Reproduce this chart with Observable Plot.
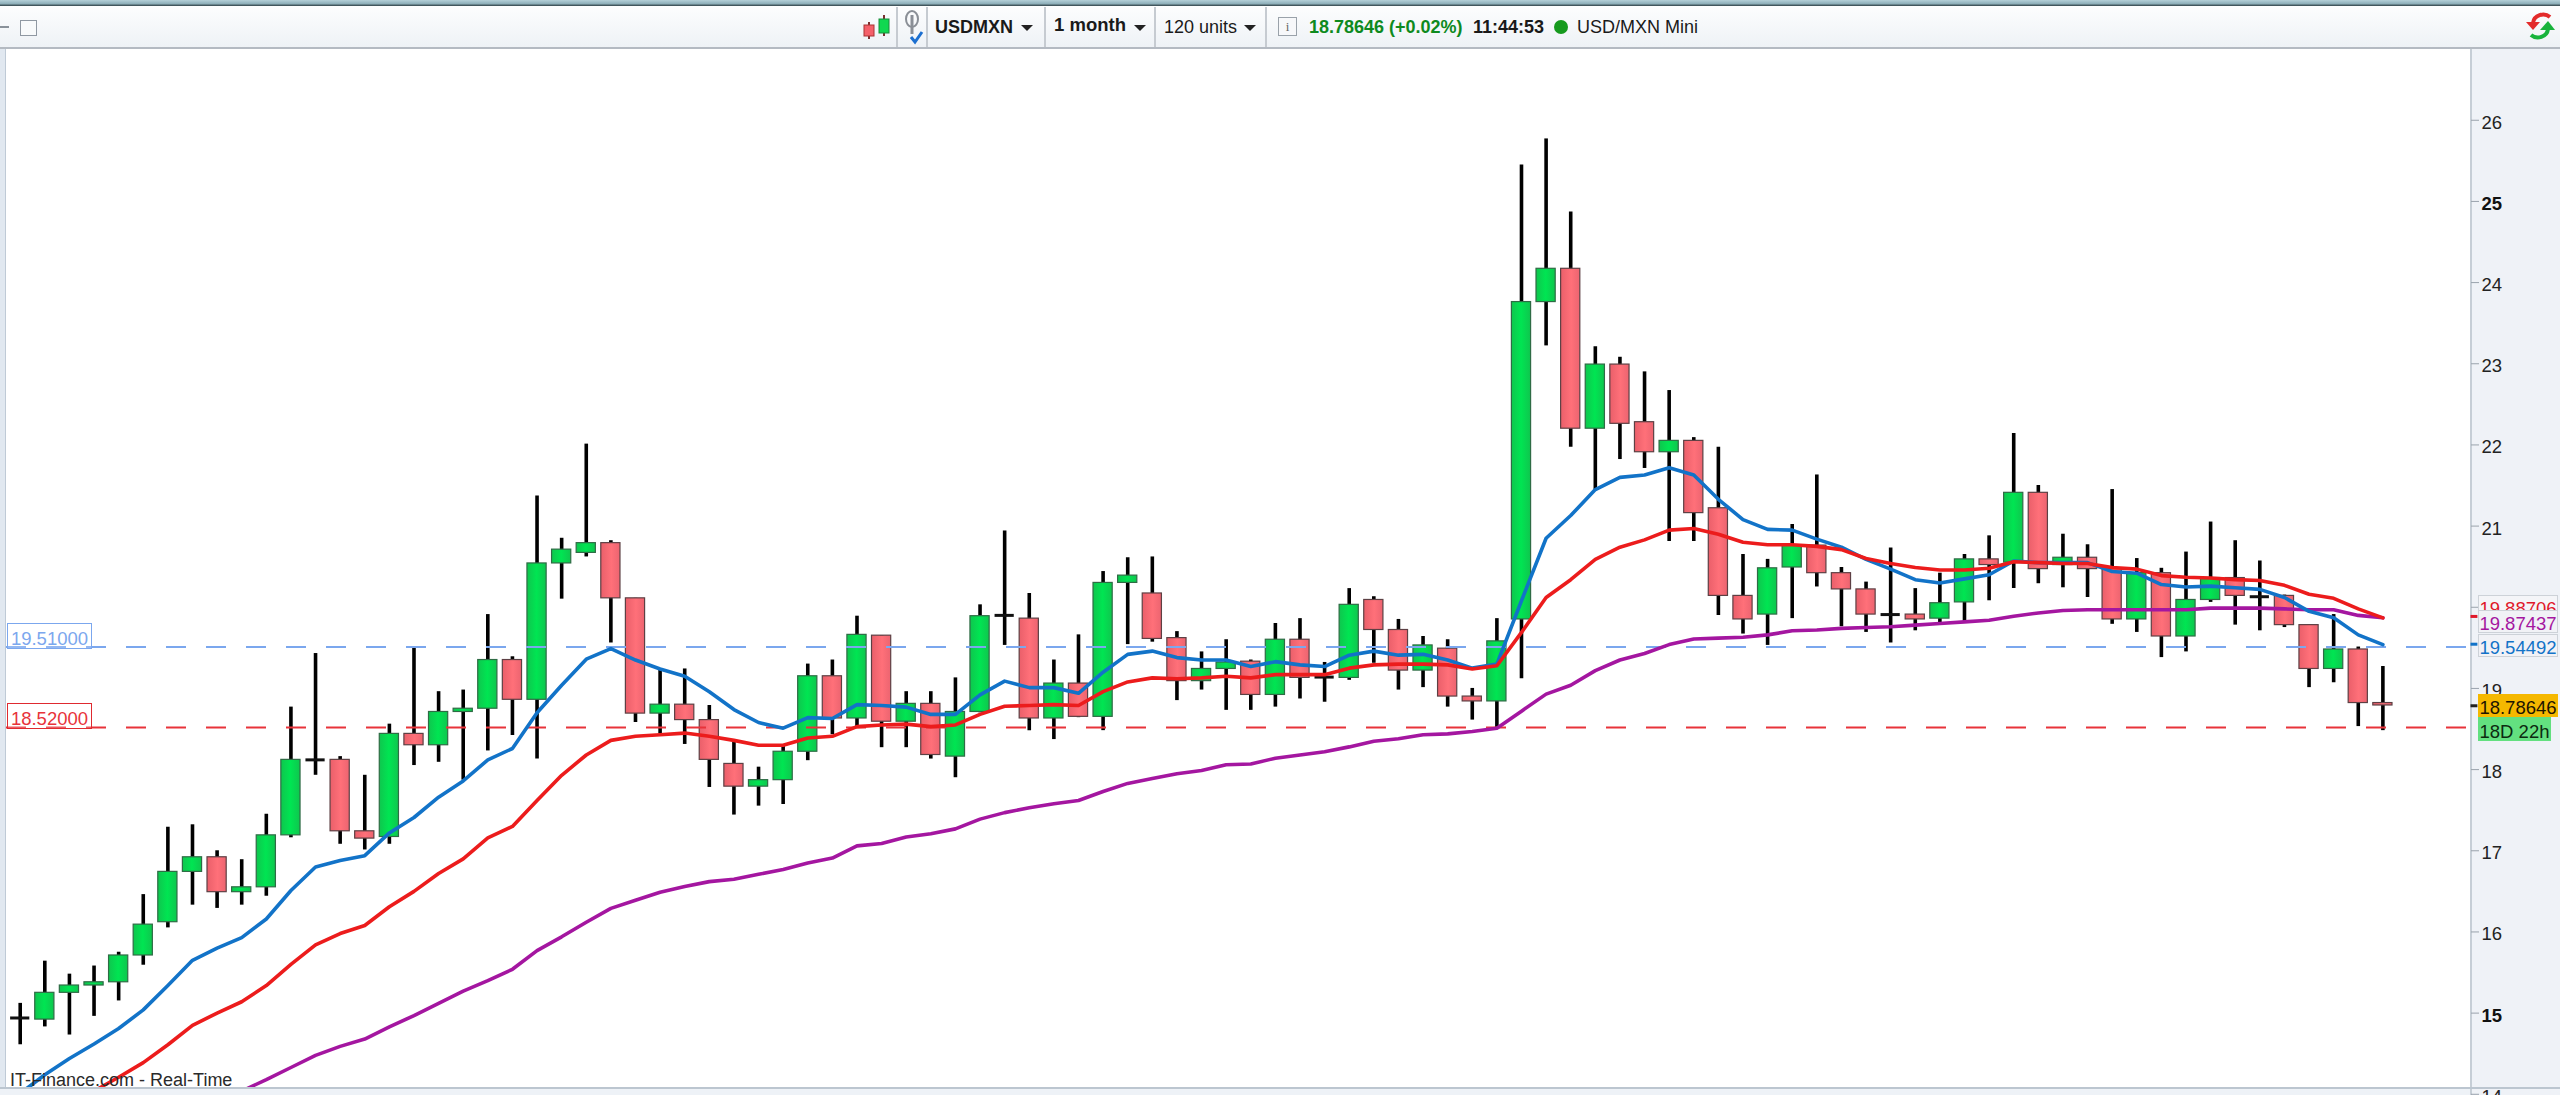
<!DOCTYPE html>
<html><head><meta charset="utf-8">
<script src="https://cdn.jsdelivr.net/npm/d3@7"></script>
<script src="https://cdn.jsdelivr.net/npm/@observablehq/plot@0.6"></script>
<style>
html,body{margin:0;padding:0;width:2560px;height:1095px;overflow:hidden;background:#fff;font-family:"Liberation Sans",sans-serif;position:relative}
#bar{position:absolute;left:0;top:0;width:2560px;height:47px;background:linear-gradient(#fff,#eef2f6);border-bottom:2px solid #b4bac2;z-index:3}
#strip{position:absolute;left:0;top:0;width:2560px;height:6px;background:linear-gradient(#b5d0d8,#8fb0ba 60%,#2d3e44);z-index:4}
.b{position:absolute;top:16px;font-size:18px;line-height:22px;white-space:nowrap;color:#1a1a1a}
.sep{position:absolute;top:7px;height:40px;width:2px;background:#c6cbd1}
.arr{position:absolute;top:25px;width:0;height:0;border-left:6px solid transparent;border-right:6px solid transparent;border-top:6px solid #222}
#panel{position:absolute;left:2470px;top:48px;width:90px;height:1047px;background:#eff2f7;border-left:2px solid #c6ced6;box-sizing:border-box;z-index:0}
#leftp{position:absolute;left:0;top:48px;width:6px;height:1047px;background:#e1e8f0;border-right:1px solid #bfcad6;box-sizing:border-box;z-index:0}
#chart{position:absolute;left:0;top:48px;z-index:1}
#chart svg{background:transparent!important;display:block}
#foot{position:absolute;left:0;top:1087px;width:2470px;height:8px;background:#eef2f7;border-top:2px solid #bcc6d0;box-sizing:border-box;z-index:2}
#foot2{position:absolute;left:2470px;top:1087px;width:90px;height:2px;background:#bcc6d0;z-index:0}
.tag{position:absolute;box-sizing:border-box;font-size:18.5px;height:23px;text-align:center;z-index:2;white-space:nowrap;overflow:hidden}
#src{position:absolute;left:10px;top:1070px;font-size:18px;line-height:20px;color:#2a2a2a;z-index:3;white-space:nowrap}
</style></head><body>
<div id="leftp"></div><div id="panel"></div><div id="foot2"></div>
<div id="chart"></div><div id="foot"></div>
<div id="strip"></div>
<div id="bar">
<div style="position:absolute;left:0;top:26px;width:9px;height:2px;background:#8a929a"></div>
<div style="position:absolute;left:20px;top:20px;width:15px;height:14px;border:1.5px solid #8f98a2;background:#f8fafb"></div>
<svg style="position:absolute;left:860px;top:12px" width="32" height="30"><path d="M9 10V27M24 3V24" stroke="#7a3030" stroke-width="2"/><rect x="4" y="13" width="10" height="11" fill="#f4606a" stroke="#a33"/><rect x="19" y="7" width="10" height="14" fill="#10d850" stroke="#1a8a3a"/></svg>
<div class="sep" style="left:896px"></div>
<svg style="position:absolute;left:902px;top:10px" width="22" height="36"><ellipse cx="10" cy="9" rx="6" ry="8" fill="none" stroke="#8a8f96" stroke-width="2"/><path d="M10 5V24" stroke="#8a8f96" stroke-width="3"/><path d="M9 27l4 5 7-10" fill="none" stroke="#1c6fd0" stroke-width="3"/></svg>
<div class="sep" style="left:926px"></div>
<div class="b" style="left:935px;font-weight:700">USDMXN</div><div class="arr" style="left:1021px"></div>
<div class="sep" style="left:1044px"></div>
<div class="b" style="left:1054px;top:14px;font-weight:700;font-size:18.5px">1 month</div><div class="arr" style="left:1134px"></div>
<div class="sep" style="left:1154px"></div>
<div class="b" style="left:1164px">120 units</div><div class="arr" style="left:1244px"></div>
<div class="sep" style="left:1265px"></div>
<div style="position:absolute;left:1278px;top:17px;width:17px;height:17px;border:1.5px solid #9aa2aa;font:13px 'Liberation Serif';text-align:center;line-height:17px;color:#666;background:#f7f8fa">i</div>
<div class="b" style="left:1309px;font-weight:700;color:#0e8a1e">18.78646 (+0.02%)</div>
<div class="b" style="left:1473px;font-weight:700">11:44:53</div>
<div style="position:absolute;left:1554px;top:20px;width:14px;height:14px;border-radius:50%;background:#169a1e"></div>
<div class="b" style="left:1577px">USD/MXN Mini</div>
<svg style="position:absolute;left:2524px;top:11px" width="32" height="30"><path d="M26 6C20 1 10 4 9 12" fill="none" stroke="#e32b2b" stroke-width="4"/><path d="M2 11h14l-7 8z" fill="#e32b2b"/><path d="M7 24c6 5 16 2 17-6" fill="none" stroke="#18b33c" stroke-width="4"/><path d="M16 19h15l-7-9z" fill="#18b33c"/></svg>
</div>
<div id="tags"></div>
<div id="src">IT-Finance.com - Real-Time</div>
<script>
const opens=[14.94,14.92,15.25,15.34,15.38,15.71,16.12,16.74,16.92,16.49,16.55,17.19,18.12,18.12,17.24,17.17,18.44,18.30,18.71,18.75,19.35,18.86,20.54,20.67,20.79,20.11,18.69,18.80,18.61,18.07,17.79,17.87,18.22,19.15,18.63,19.65,18.59,18.81,18.16,18.71,19.90,19.86,18.63,19.06,18.65,20.30,20.17,19.62,19.09,19.24,19.33,18.92,19.60,19.14,19.13,20.09,19.72,19.22,19.49,18.90,18.84,19.85,23.76,24.17,22.20,22.99,22.28,21.91,22.05,21.22,20.14,19.91,20.49,20.76,20.42,20.22,19.91,19.91,19.86,20.06,20.59,20.55,21.41,20.52,20.61,20.47,19.85,20.42,19.64,20.09,20.36,20.13,20.14,19.78,19.24,19.48,18.82];
const closes=[14.94,15.25,15.34,15.38,15.71,16.09,16.74,16.92,16.49,16.55,17.19,18.12,18.12,17.24,17.15,18.44,18.30,18.71,18.75,19.35,18.86,20.54,20.71,20.79,20.11,18.69,18.80,18.61,18.12,17.79,17.87,18.22,19.15,18.63,19.66,18.59,18.81,18.18,18.71,19.89,19.90,18.63,19.06,18.65,20.30,20.39,19.61,19.09,19.24,19.32,18.92,19.60,19.13,19.14,20.03,19.72,19.22,19.53,18.90,18.84,19.58,23.76,24.17,22.20,22.99,22.26,21.91,22.05,21.16,20.14,19.85,20.48,20.76,20.42,20.22,19.91,19.91,19.85,20.05,20.59,20.52,21.41,20.47,20.61,20.47,19.85,20.42,19.64,20.09,20.36,20.14,20.13,19.78,19.24,19.48,18.82,18.79];
const highs=[15.12,15.64,15.48,15.58,15.75,16.46,17.29,17.32,17.00,16.89,17.45,18.77,19.43,18.16,17.93,18.56,19.50,18.96,18.98,19.91,19.39,21.37,20.85,22.01,20.82,20.11,19.24,19.24,18.79,18.36,18.03,18.30,19.30,19.35,19.89,19.65,18.96,18.96,19.13,20.03,20.94,20.17,19.35,19.66,20.44,20.61,20.62,19.70,19.45,19.60,19.35,19.80,19.86,19.32,20.23,20.13,19.85,19.64,19.60,19.00,19.86,25.45,25.77,24.87,23.21,23.08,22.90,22.67,22.09,21.97,20.65,20.59,21.02,21.63,20.49,20.31,20.73,20.23,20.42,20.65,20.88,22.14,21.50,20.90,20.77,21.45,20.60,20.48,20.68,21.05,20.82,20.57,20.15,19.78,19.91,19.51,19.27];
const lows=[14.61,14.83,14.73,14.96,15.15,15.59,16.05,16.33,16.29,16.33,16.44,17.16,17.93,17.08,17.01,17.08,18.05,18.09,17.87,18.23,18.42,18.13,20.10,20.62,19.56,18.58,18.44,18.31,17.78,17.44,17.55,17.57,18.11,18.43,18.53,18.27,18.27,18.13,17.90,18.70,19.53,18.48,18.37,18.64,18.48,19.54,19.57,18.85,18.98,18.73,18.73,18.77,18.87,18.83,19.10,19.31,18.98,19.01,18.77,18.61,18.51,19.12,23.22,21.97,21.45,21.82,21.71,20.81,20.81,19.90,19.67,19.53,19.86,20.25,19.76,19.69,19.56,19.71,19.80,19.82,20.08,20.23,20.29,20.24,20.12,19.79,19.69,19.38,19.45,20.06,19.78,19.71,19.75,19.01,19.07,18.53,18.48];
const maBlue=[14.01,14.24,14.44,14.62,14.81,15.04,15.34,15.65,15.80,15.93,16.16,16.51,16.80,16.88,16.94,17.22,17.41,17.66,17.86,18.12,18.26,18.70,19.04,19.36,19.49,19.35,19.24,19.15,18.96,18.74,18.58,18.51,18.64,18.63,18.80,18.79,18.77,18.68,18.68,18.92,19.09,19.01,19.01,18.94,19.20,19.42,19.46,19.38,19.35,19.35,19.27,19.33,19.29,19.27,19.41,19.46,19.41,19.42,19.35,19.25,19.30,20.08,20.85,21.13,21.45,21.60,21.63,21.72,21.63,21.33,21.08,20.96,20.95,20.84,20.74,20.59,20.47,20.34,20.30,20.35,20.40,20.57,20.55,20.55,20.55,20.44,20.42,20.28,20.25,20.26,20.24,20.22,20.12,19.95,19.87,19.66,19.54];
const maRed=[null,null,null,14.04,14.21,14.39,14.61,14.85,15.00,15.14,15.34,15.60,15.84,15.98,16.08,16.31,16.50,16.72,16.90,17.16,17.30,17.62,17.93,18.18,18.36,18.41,18.43,18.45,18.41,18.36,18.30,18.30,18.39,18.41,18.53,18.55,18.56,18.53,18.55,18.68,18.78,18.79,18.80,18.79,18.96,19.08,19.13,19.12,19.13,19.15,19.13,19.17,19.17,19.17,19.25,19.29,19.30,19.30,19.29,19.24,19.28,19.69,20.12,20.34,20.59,20.74,20.83,20.95,20.97,20.90,20.80,20.77,20.77,20.75,20.71,20.60,20.54,20.49,20.46,20.46,20.48,20.56,20.55,20.54,20.54,20.49,20.47,20.39,20.37,20.36,20.34,20.33,20.27,20.16,20.11,19.98,19.87];
const maPurple=[null,null,null,null,null,null,null,null,null,14.04,14.18,14.33,14.48,14.59,14.68,14.83,14.97,15.12,15.27,15.40,15.54,15.77,15.94,16.12,16.29,16.39,16.49,16.56,16.62,16.65,16.71,16.77,16.85,16.91,17.06,17.09,17.17,17.21,17.27,17.39,17.47,17.53,17.58,17.62,17.73,17.83,17.89,17.95,17.99,18.06,18.07,18.14,18.18,18.22,18.28,18.35,18.38,18.43,18.44,18.47,18.51,18.72,18.93,19.04,19.22,19.35,19.43,19.54,19.61,19.62,19.63,19.66,19.71,19.72,19.74,19.75,19.76,19.78,19.80,19.82,19.84,19.89,19.93,19.96,19.97,19.97,19.97,19.97,19.97,19.99,19.99,19.99,19.98,19.97,19.97,19.90,19.87];
const axisTicks=[14,16,17,18,19,20,21,22,23,24,26];
const boldTicks=[15,25];
const levels=[{v:19.51,c:"#7ba7ee"},{v:18.52,c:"#e8333a"}];
const lastMarks=[{v:19.88706,c:"#e0182a"},{v:19.54492,c:"#1273c8"},{v:18.78646,c:"#222"}];

const idx=opens.map((_,i)=>i);
const candles=idx.map(i=>({i,o:opens[i],h:highs[i],l:lows[i],c:closes[i]}));
const up=candles.filter(d=>d.c>d.o), down=candles.filter(d=>d.c<d.o), doji=candles.filter(d=>d.c===d.o);
const halfBody=0.39;
const ma=a=>a.map((v,i)=>({i,v})).filter(d=>d.v!=null);
const common={x:"i",y:"v",strokeWidth:3.6,curve:"linear",strokeLinejoin:"round"};
const chart=Plot.plot({
  width:2560,height:1047,marginLeft:6,marginRight:90,marginTop:0,marginBottom:0,
  style:{fontFamily:"Liberation Sans",background:"transparent",overflow:"hidden"},
  x:{domain:[-0.557,99.56],axis:null},
  y:{domain:[13.985,26.884],axis:null},
  marks:[
    Plot.axisY(axisTicks,{anchor:"right",tickSize:8,tickPadding:3,fontSize:18.5,textStroke:"none",stroke:"#9aa3ac",fill:"#222",label:null,tickFormat:d=>d}),
    Plot.axisY(boldTicks,{anchor:"right",tickSize:8,tickPadding:3,fontSize:18.5,fontWeight:700,stroke:"#9aa3ac",fill:"#111",label:null,tickFormat:d=>d}),
    Plot.ruleX(candles,{x:"i",y1:"l",y2:"h",stroke:"#000",strokeWidth:3.6}),
    Plot.rect(up,{x1:d=>d.i-halfBody,x2:d=>d.i+halfBody,y1:"o",y2:"c",fill:"url(#gUp)",stroke:"#2f6b45",strokeWidth:1.2,inset:0}),
    Plot.rect(down,{x1:d=>d.i-halfBody,x2:d=>d.i+halfBody,y1:"o",y2:"c",fill:"url(#gDn)",stroke:"#5d4044",strokeWidth:1.2,inset:0}),
    Plot.ruleY(doji,{y:"c",x1:d=>d.i-halfBody,x2:d=>d.i+halfBody,stroke:"#111",strokeWidth:3}),
    Plot.ruleY(levels,{y:"v",stroke:"c",strokeWidth:2,strokeDasharray:"20,20"}),
    Plot.line(ma(maPurple),{...common,stroke:"#a416a0"}),
    Plot.line(ma(maBlue),{...common,stroke:"#1273c8"}),
    Plot.line(ma(maRed),{...common,stroke:"#ec1c1c"}),
    Plot.ruleY(lastMarks,{y:"v",x1:99.58,x2:99.86,stroke:"c",strokeWidth:3})
  ]
});
const ns="http://www.w3.org/2000/svg";
const defs=document.createElementNS(ns,"defs");
defs.innerHTML=`<linearGradient id="gUp" x1="0" x2="1" y1="0" y2="0"><stop offset="0" stop-color="#0fc64e"/><stop offset=".5" stop-color="#00e552"/><stop offset="1" stop-color="#0fc64e"/></linearGradient>
<linearGradient id="gDn" x1="0" x2="1" y1="0" y2="0"><stop offset="0" stop-color="#ea5f6a"/><stop offset=".55" stop-color="#ff7079"/><stop offset="1" stop-color="#ec6470"/></linearGradient>`;
chart.prepend(defs);
document.getElementById("chart").append(chart);
chart.querySelectorAll('g[aria-label="y-axis tick label"]').forEach(g=>g.setAttribute("transform",(g.getAttribute("transform")||"")+" translate(0,2.5)"));

const tagSpec=[
 ["19.51000",7,623,85,26,"#7ba7ee","rgba(255,255,255,.2)","#7ba7ee",2],
 ["18.52000",7,703,85,26,"#e8333a","rgba(255,255,255,.2)","#df2a30",2],
 ["19.88706",2478,595,80,23,"#e0182a","#f4f5f8","#cdd2d8",2],
 ["19.87437",2478,610,80,23,"#a416a0","#f1f2f6","#cdd2d8",3],
 ["19.54492",2478,634,80,23,"#1273c8","#f1f2f6","#cdd2d8",3],
 ["18.78646",2478,694,80,23,"#1c1400","#f5b800","#f5b800",3],
 ["18D 22h",2478,717,73,24,"#0c2a10","#63e080","#63e080",3]
];
const host=document.getElementById("tags");
for(const [t,l,top,w,h,c,bg,bd,z] of tagSpec){
 const e=document.createElement("div");e.className="tag";e.textContent=t;
 e.style.cssText=`left:${l}px;top:${top}px;width:${w}px;height:${h}px;line-height:${h+3}px;color:${c};background:${bg};border:1px solid ${bd};z-index:${z}`;
 host.append(e);
}
</script></body></html>
